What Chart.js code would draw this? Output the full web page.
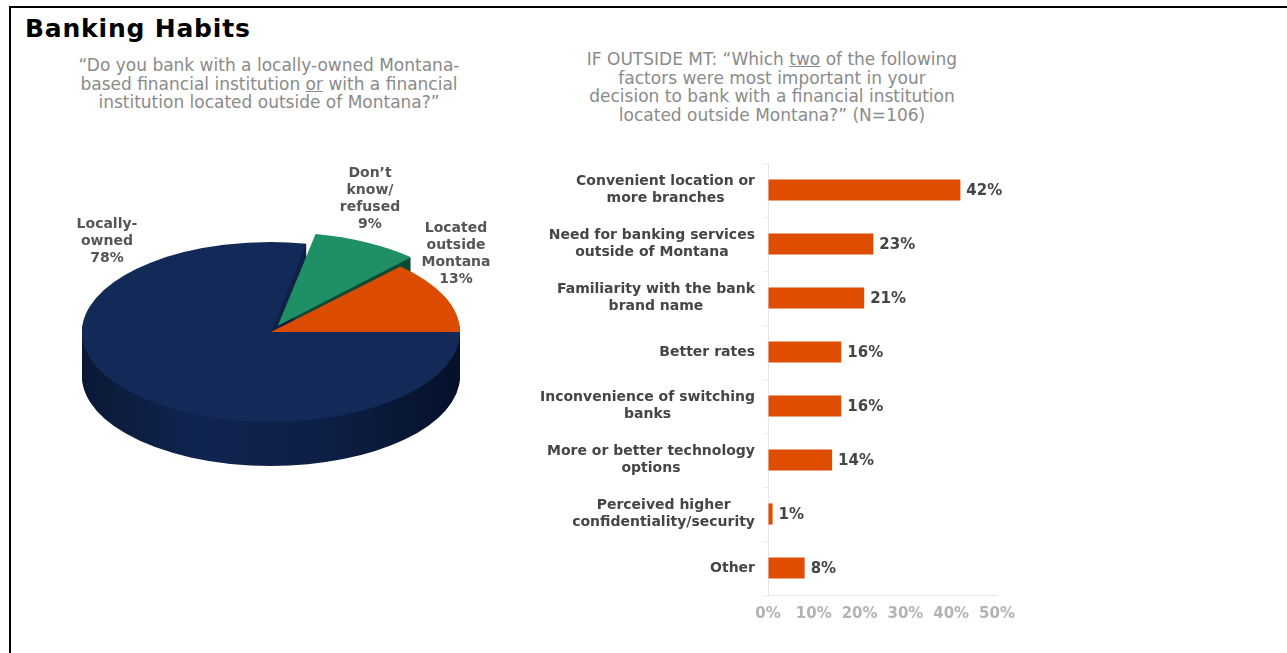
<!DOCTYPE html>
<html>
<head>
<meta charset="utf-8">
<script src="https://cdn.jsdelivr.net/npm/chart.js@4"></script>
<style>
  body { margin: 0; width: 1287px; height: 653px; background: #fff; overflow: hidden; position: relative; font-family: "DejaVu Sans", Verdana, sans-serif; }
  .frameTop { position: absolute; left: 9px; top: 6px; width: 1278px; height: 2px; background: #000; }
  .frameLeft { position: absolute; left: 9px; top: 6px; width: 2px; height: 647px; background: #000; }
  #title { position: absolute; left: 25px; top: 14px; font-weight: bold; font-size: 25px; line-height: 30px; color: #000; letter-spacing: 0.8px; }
  .question { position: absolute; text-align: center; color: #8a8a8a; font-size: 17px; line-height: 18.5px; white-space: nowrap; }
  .pieLabel { position: absolute; text-align: center; color: #555; font-weight: bold; font-size: 14px; line-height: 17px; white-space: nowrap; transform: translateX(-50%); }
  canvas { position: absolute; }
</style>
</head>
<body>
<div class="frameTop"></div>
<div class="frameLeft"></div>
<div id="title">Banking Habits</div>
<div class="question" style="left:19px; top:56px; width:500px;">&ldquo;Do you bank with a locally-owned Montana-<br>based financial institution <u>or</u> with a financial<br>institution located outside of Montana?&rdquo;</div>
<div class="question" style="left:522px; top:50px; width:500px;">IF OUTSIDE MT: &ldquo;Which <u>two</u> of the following<br>factors were most important in your<br>decision to bank with a financial institution<br>located outside Montana?&rdquo; (N=106)</div>

<canvas id="pie" width="440" height="440" style="left:51px; top:112px; width:440px; height:440px;"></canvas>
<div class="pieLabel" style="left:107px; top:215px;">Locally-<br>owned<br>78%</div>
<div class="pieLabel" style="left:370px; top:164px;">Don&rsquo;t<br>know/<br>refused<br>9%</div>
<div class="pieLabel" style="left:456px; top:219px;">Located<br>outside<br>Montana<br>13%</div>

<div style="position:absolute; left:520px; top:150px; width:520px; height:480px;">
  <canvas id="bars"></canvas>
</div>

<script>
// pie: where respondents bank
var pieLabels = ['Don\u2019t know/refused', 'Located outside Montana', 'Locally-owned'];
var pieValues = [9, 13, 78];
var pieColors = ['#1f8f66', '#dc4c00', '#132a58'];
var pieWalls = ['#0d4a33', '#8f3200', null];

// bars: reasons for banking outside MT
var reasons = [
  ['Convenient location or', 'more branches'],
  ['Need for banking services', 'outside of Montana'],
  ['Familiarity with the bank', 'brand name'],
  ['Better rates'],
  ['Inconvenience of switching', 'banks'],
  ['More or better technology', 'options'],
  ['Perceived higher', 'confidentiality/security'],
  ['Other']
];
var reasonPct = [42, 23, 21, 16, 16, 14, 1, 8];
var pctTicks = [0, 10, 20, 30, 40, 50];

var TILT = 0.476;   // vertical squash of the pie top
var DEPTH = 44;     // thickness of the pie in px

// draws the side walls, then squashes the top faces
var tiltPlugin = {
  id: 'tilt',
  beforeDatasetsDraw: function(chart) {
    var ctx = chart.ctx;
    var arcs = chart.getDatasetMeta(0).data;
    var cx = arcs[0].x, cy = arcs[0].y, r = arcs[0].outerRadius;
    var w = chart.canvas.width, h = chart.canvas.height;
    var off = document.createElement('canvas');
    off.width = w; off.height = h;
    var o = off.getContext('2d');

    ctx.save();
    for (var i = 0; i < arcs.length; i++) {
      o.setTransform(1, 0, 0, 1, 0, 0);
      o.globalCompositeOperation = 'source-over';
      o.clearRect(0, 0, w, h);
      for (var d = DEPTH; d >= 1; d--) {
        o.setTransform(1, 0, 0, TILT, 0, cy * (1 - TILT) + d);
        arcs[i].draw(o);
      }
      o.setTransform(1, 0, 0, 1, 0, 0);
      o.globalCompositeOperation = 'source-in';
      if (pieWalls[i]) {
        o.fillStyle = pieWalls[i];
      } else {
        var g = o.createLinearGradient(cx - r, 0, cx + r, 0);
        g.addColorStop(0, '#0a1935');
        g.addColorStop(0.3, '#102450');
        g.addColorStop(0.65, '#0d1f45');
        g.addColorStop(1, '#06112a');
        o.fillStyle = g;
      }
      o.fillRect(0, 0, w, h);
      ctx.drawImage(off, 0, 0);
    }
    ctx.translate(0, cy * (1 - TILT));
    ctx.scale(1, TILT);
  },
  afterDatasetsDraw: function(chart) {
    chart.ctx.restore();
  }
};

new Chart(document.getElementById('pie'), {
  type: 'pie',
  data: {
    labels: pieLabels,
    datasets: [{
      data: pieValues,
      backgroundColor: pieColors,
      borderWidth: 0,
      offset: [60, 0, 0],
      clip: false
    }]
  },
  options: {
    responsive: false,
    animation: false,
    events: [],
    radius: 189,
    rotation: 10.8,
    layout: { padding: 0 },
    plugins: { legend: { display: false }, tooltip: { enabled: false } }
  },
  plugins: [tiltPlugin]
});

// category names: right-aligned blocks, lines centred inside each block
var reasonLabels = {
  id: 'reasonLabels',
  afterDraw: function(chart) {
    var ctx = chart.ctx;
    var y = chart.scales.y;
    var right = y.right - 13;
    ctx.save();
    ctx.font = 'bold 14px "DejaVu Sans"';
    ctx.fillStyle = '#454545';
    ctx.textAlign = 'center';
    ctx.textBaseline = 'middle';
    reasons.forEach(function(lines, i) {
      var cyy = y.getPixelForValue(i);
      var wmax = 0;
      lines.forEach(function(t) { wmax = Math.max(wmax, ctx.measureText(t).width); });
      var mid = right - wmax / 2;
      var top = cyy - (lines.length - 1) * 16.5 / 2;
      lines.forEach(function(t, k) { ctx.fillText(t, mid, top + k * 16.5); });
    });
    ctx.restore();
  }
};

// value at the end of each bar
var barValues = {
  id: 'barValues',
  afterDatasetsDraw: function(chart) {
    var ctx = chart.ctx;
    var meta = chart.getDatasetMeta(0);
    ctx.save();
    ctx.font = 'bold 15px "DejaVu Sans"';
    ctx.fillStyle = '#454545';
    ctx.textAlign = 'left';
    ctx.textBaseline = 'middle';
    meta.data.forEach(function(bar, i) {
      ctx.fillText(reasonPct[i] + '%', bar.x + 6, bar.y + 1);
    });
    ctx.restore();
  }
};

new Chart(document.getElementById('bars'), {
  type: 'bar',
  data: {
    labels: reasons,
    datasets: [{
      data: reasonPct,
      backgroundColor: '#df4d00',
      categoryPercentage: 0.8,
      barPercentage: 0.49
    }]
  },
  options: {
    indexAxis: 'y',
    responsive: true,
    maintainAspectRatio: false,
    animation: false,
    events: [],
    layout: { padding: { top: 13, right: 43, bottom: 0, left: 0 } },
    scales: {
      x: {
        min: pctTicks[0],
        max: pctTicks[pctTicks.length - 1],
        afterBuildTicks: function(scale) {
          scale.ticks = pctTicks.map(function(v) { return { value: v }; });
        },
        afterFit: function(scale) { scale.height = 35; },
        grid: { display: true, drawOnChartArea: false, drawTicks: false },
        border: { color: '#e6e6e6', width: 1 },
        ticks: {
          padding: 10,
          color: '#b3b3b3',
          font: { family: 'DejaVu Sans', weight: 'bold', size: 15 },
          callback: function(v) { return v + '%'; }
        }
      },
      y: {
        afterFit: function(scale) { scale.width = 248; },
        grid: { display: true, drawOnChartArea: false, drawTicks: true, tickLength: 5, color: '#eeeeee' },
        border: { color: '#e6e6e6', width: 1 },
        ticks: { display: false }
      }
    },
    plugins: { legend: { display: false }, tooltip: { enabled: false } }
  },
  plugins: [reasonLabels, barValues]
});
</script>
</body>
</html>
